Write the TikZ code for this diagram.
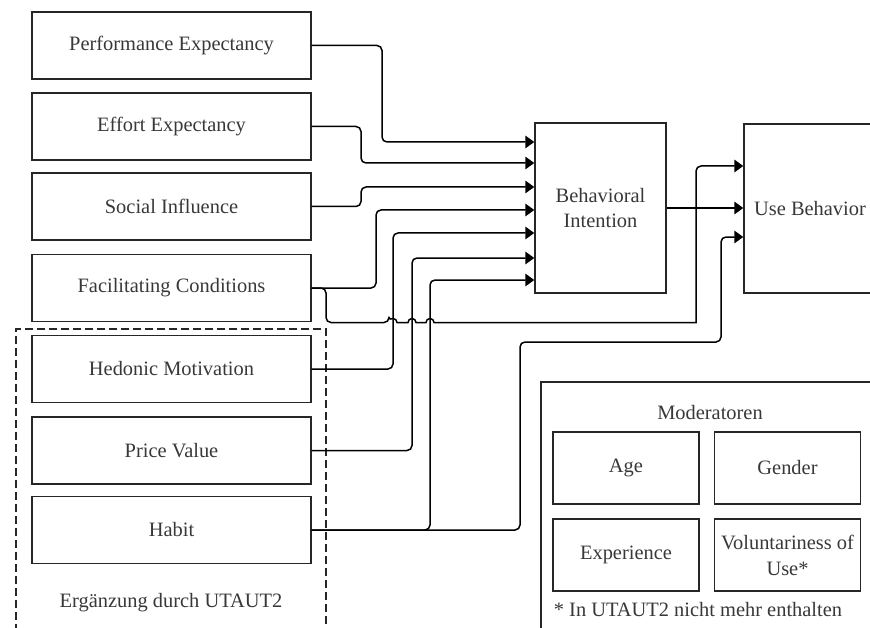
\documentclass[tikz,border=0pt]{standalone}
\usepackage{fontspec}
\setmainfont{Liberation Serif}
\usetikzlibrary{arrows.meta}
\begin{document}
\begin{tikzpicture}[x=1bp,y=-1bp,
  every node/.style={font=\fontsize{20.5}{26}\selectfont, text=black!78},
  box/.style={draw=black!85, line width=1.4bp, rectangle, inner sep=0pt, align=center},
  srcbox/.style={box, minimum width=279bp, minimum height=67bp},
  modbox/.style={box, minimum width=146bp, minimum height=72bp},
  groupbox/.style={draw=black!85, line width=1.3bp, dash pattern=on 8bp off 4bp, rectangle, inner sep=0pt},
  conn/.style={draw=black, line width=1.5bp, rounded corners=5bp, -{Triangle[length=9bp,width=12.5bp]}}
]
\clip (0,0) rectangle (870,628);

% UTAUT2 extension group
\node[groupbox, minimum width=310bp, minimum height=321bp] (ext) at (171,489.5) {};
\node (extlabel) at (171,603) {Ergänzung durch UTAUT2};

% determinants
\node[srcbox] (pe) at (171.5,45.5)  {Performance Expectancy};
\node[srcbox] (ee) at (171.5,126.5) {Effort Expectancy};
\node[srcbox] (si) at (171.5,206.5) {Social Influence};
\node[srcbox] (fc) at (171.5,288)   {Facilitating Conditions};
\node[srcbox] (hm) at (171.5,369)   {Hedonic Motivation};
\node[srcbox] (pv) at (171.5,450.5) {Price Value};
\node[srcbox] (ha) at (171.5,530)   {Habit};

% outcomes
\node[box, minimum width=131bp, minimum height=170bp] (bi) at (600.5,208) {Behavioral\\Intention};
\node[box, minimum width=132bp, minimum height=169bp] (ub) at (810,208.5) {Use Behavior};

% moderators
\node[box, minimum width=339bp, minimum height=268bp] (mod) at (710.5,516) {};
\node (modtitle) at (710,413) {Moderatoren};
\node[modbox] (age) at (626,468)   {Age};
\node[modbox] (gen) at (787.5,468) {Gender};
\node[modbox] (exp) at (626,555)   {Experience};
\node[modbox] (vol) at (787.5,555) {Voluntariness of\\Use*};
\node (note) at (698,610) {* In UTAUT2 nicht mehr enthalten};

% paths into Behavioral Intention
\draw[conn] (pe.east) -- (382,45.5)  -- (382,142) -- (bi.west |- 0,142);
\draw[conn] (ee.east) -- (361,126.5) -- (361,163) -- (bi.west |- 0,163);
\draw[conn] (si.east) -- (361,206.5) -- (361,187) -- (bi.west |- 0,187);
\draw[conn] (fc.east) -- (376,288)   -- (376,210) -- (bi.west |- 0,210);
\draw[conn] (hm.east) -- (393,369)   -- (393,233) -- (bi.west |- 0,233);
\draw[conn] (pv.east) -- (412,450.5) -- (412,258) -- (bi.west |- 0,258);
\draw[conn] (ha.east) -- (430,530)   -- (430,280) -- (bi.west |- 0,280);

% paths into Use Behavior (line hops over the crossing verticals)
\draw[conn] (bi.east) -- (bi.east -| ub.west);
\draw[conn] (fc.east) -- (326,288) -- (326,322.5) -- (389,322.5)
  [sharp corners] arc[start angle=180, end angle=0, radius=4bp]
  -- (408,322.5) arc[start angle=180, end angle=0, radius=4bp]
  -- (426,322.5) arc[start angle=180, end angle=0, radius=4bp]
  -- (696,322.5) [rounded corners=5bp] -- (696,166) -- (ub.west |- 0,166);
\draw[conn] (ha.east) -- (520,530) -- (520,342) -- (721,342) -- (721,237) -- (ub.west |- 0,237);
\end{tikzpicture}
\end{document}
